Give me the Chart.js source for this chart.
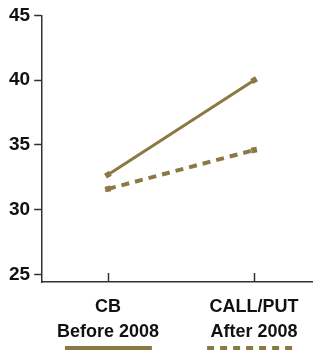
<!DOCTYPE html>
<html>
<head>
<meta charset="utf-8">
<script src="https://cdn.jsdelivr.net/npm/chart.js@4"></script>
<style>
  html, body { margin: 0; padding: 0; background: #fff; }
  #wrap { width: 316px; height: 351px; }
</style>
</head>
<body>
<div id="wrap"><canvas id="optionChart"></canvas></div>
<script>
const categories = [['CB', 'Before 2008'], ['CALL/PUT', 'After 2008']];
const solidSeries = [32.7, 40.0];
const dashedSeries = [31.6, 34.6];
const yTicks = [25, 30, 35, 40, 45];

const gold = '#8c7843';
const axisColor = '#333333';
const fontFamily = '"Liberation Sans", Arial, sans-serif';

// x positions are category indexes 0 and 1 on a linear scale
const toPoints = arr => arr.map((v, i) => ({ x: i, y: v }));

// tick marks pointing up from the x axis, plus the legend lines under the labels
const extras = {
    id: 'extras',
    afterDraw(chart) {
        const c = chart.ctx;
        const xs = chart.scales.x;
        const bottom = chart.chartArea.bottom;
        c.save();
        c.strokeStyle = axisColor;
        c.lineWidth = 1.5;
        categories.forEach((_, i) => {
            const px = Math.round(xs.getPixelForValue(i)) + 0.5;
            c.beginPath();
            c.moveTo(px, bottom - 9);
            c.lineTo(px, bottom);
            c.stroke();
        });
        // legend lines
        const legendY = 348;
        c.strokeStyle = gold;
        c.lineWidth = 4;
        const p0 = xs.getPixelForValue(0);
        c.beginPath();
        c.moveTo(p0 - 43, legendY);
        c.lineTo(p0 + 44, legendY);
        c.stroke();
        const p1 = xs.getPixelForValue(1);
        c.setLineDash([7, 6]);
        c.beginPath();
        c.moveTo(p1 - 47, legendY);
        c.lineTo(p1 + 42, legendY);
        c.stroke();
        c.restore();
    }
};

new Chart(document.getElementById('optionChart').getContext('2d'), {
    type: 'line',
    data: {
        datasets: [{
            label: 'CB Before 2008',
            data: toPoints(solidSeries),
            borderColor: gold,
            backgroundColor: gold,
            borderWidth: 3,
            pointStyle: 'rect',
            pointRadius: 4,
            pointRotation: -30,
            pointBorderWidth: 0,
            fill: false
        }, {
            label: 'CALL/PUT After 2008',
            data: toPoints(dashedSeries),
            borderColor: gold,
            backgroundColor: gold,
            borderWidth: 4,
            borderDash: [8, 6],
            pointStyle: 'rect',
            pointRadius: 4,
            pointRotation: -11,
            pointBorderWidth: 0,
            fill: false
        }]
    },
    options: {
        responsive: true,
        maintainAspectRatio: false,
        animation: false,
        layout: { padding: { top: 4, right: 0, bottom: 0, left: 5 } },
        plugins: {
            legend: { display: false },
            tooltip: { enabled: false }
        },
        scales: {
            x: {
                type: 'linear',
                min: -0.45,
                max: 1.396,
                afterBuildTicks: scale => { scale.ticks = categories.map((_, i) => ({ value: i })); },
                afterFit: scale => { scale.height = 69; },
                grid: { display: false, drawTicks: false },
                border: { display: true, color: axisColor, width: 1.5 },
                ticks: {
                    padding: 12,
                    maxRotation: 0,
                    autoSkip: false,
                    color: '#111',
                    font: { family: fontFamily, size: 18, weight: 'bold', lineHeight: 1.4 },
                    callback: value => categories[value]
                }
            },
            y: {
                min: 24.41,
                max: 45,
                afterBuildTicks: scale => { scale.ticks = yTicks.map(v => ({ value: v })); },
                grid: {
                    drawOnChartArea: false,
                    drawTicks: true,
                    tickLength: 8,
                    tickWidth: 1.5,
                    color: axisColor
                },
                border: { display: true, color: axisColor, width: 1.5 },
                ticks: {
                    padding: 4,
                    color: '#111',
                    font: { family: fontFamily, size: 19, weight: 'bold' }
                }
            }
        }
    },
    plugins: [extras]
});
</script>
</body>
</html>
